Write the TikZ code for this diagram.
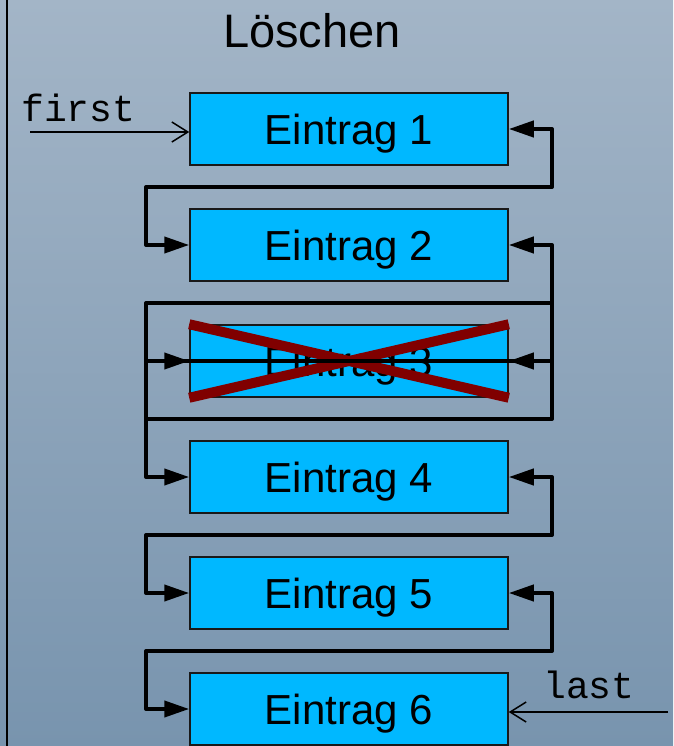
\documentclass[tikz,border=0pt]{standalone}
\usepackage{fontspec}
\setmainfont{Liberation Sans}
\newfontfamily\monofont{Liberation Mono}
\usetikzlibrary{arrows.meta,calc}
\definecolor{bgtop}{HTML}{A3B5C7}
\definecolor{bgbottom}{HTML}{7894AE}
\definecolor{entryfill}{HTML}{00B8FF}
\definecolor{crossred}{HTML}{800000}
\begin{document}
\begin{tikzpicture}[x=1pt,y=-1pt,
  entry/.style={draw=black!90, line width=1.5pt, fill=entryfill,
    minimum width=318pt, minimum height=72pt, inner sep=0pt,
    text depth=0pt, font=\fontsize{42}{48}\selectfont},
  dlink/.style={line width=4pt, line join=round,
    {Triangle[length=25pt,width=16pt]}-{Triangle[length=25pt,width=16pt]}},
  bar/.style={line width=4pt, line join=round},
  ptr/.style={line width=1.5pt, -{Straight Barb[length=16pt,width=20pt]}},
  mono/.style={font=\monofont\fontsize{38}{40}\selectfont, inner sep=0pt, anchor=base west}
]
\useasboundingbox (0,0) rectangle (673,746);
% background
\shade[top color=bgtop, bottom color=bgbottom] (0,0) rectangle (673,746);
\draw[line width=2.3pt] (7,0) -- (7,746);

% title
\node[font=\fontsize{47}{56}\selectfont, anchor=base, inner sep=0pt] (title) at (312,48) {Löschen};

% list entries
\foreach \i in {1,...,6}
  \node[entry] (e\i) at (349,{129+116*(\i-1)}) {Eintrag \i};

% deleted entry
\draw[crossred, line width=10pt]
  (e3.north west) -- (e3.south east)
  (e3.south west) -- (e3.north east);

% link columns and gaps between entries
\coordinate (R) at (552,0);
\coordinate (L) at (146,0);
\coordinate (g12) at ($(e1.south)!.5!(e2.north)$);
\coordinate (g23) at ($(e2.south)!.5!(e3.north)$);
\coordinate (g34) at ($(e3.south)!.5!(e4.north)$);
\coordinate (g45) at ($(e4.south)!.5!(e5.north)$);
\coordinate (g56) at ($(e5.south)!.5!(e6.north)$);

% doubly linked connections
\draw[dlink] (e1.east) -| (R |- g12) -- (L |- g12) |- (e2.west);
\draw[dlink] (e2.east) -| (R |- g23) -- (L |- g23) |- (e3.west);
\draw[dlink] (e3.east) -| (R |- g34) -- (L |- g34) |- (e4.west);
\draw[dlink] (e4.east) -| (R |- g45) -- (L |- g45) |- (e5.west);
\draw[dlink] (e5.east) -| (R |- g56) -- (L |- g56) |- (e6.west);
% bypass around and across the deleted entry
\draw[bar] (R |- g23) -- (R |- g34);
\draw[bar] (L |- g23) -- (L |- g34);
\draw[bar] (L |- e3.west) -- (R |- e3.east);

% head and tail pointers
\node[mono] (first) at (21,122) {first};
\coordinate (firststart) at (30,132);
\draw[ptr] (firststart) -- ([yshift=-3pt]e1.west);
\node[mono] (last) at (543,698) {last};
\coordinate (laststart) at (668,712);
\draw[ptr] (laststart) -- ([yshift=-3pt]e6.east);
\end{tikzpicture}
\end{document}
